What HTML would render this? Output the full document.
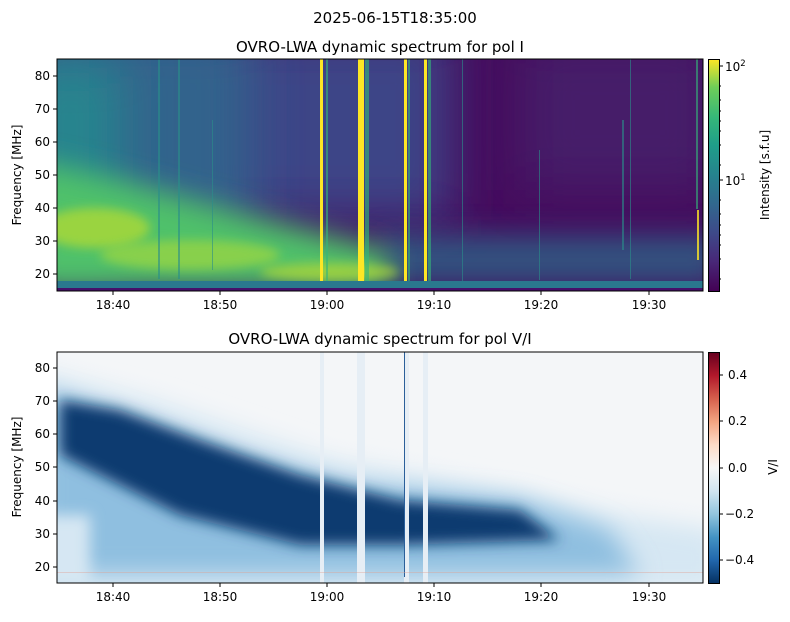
<!DOCTYPE html>
<html><head><meta charset="utf-8"><style>
body{margin:0;background:#fff;width:790px;height:617px;overflow:hidden}
svg text{font-family:"DejaVu Sans","Liberation Sans",sans-serif;fill:#000}
</style></head><body>
<svg width="790" height="617" viewBox="0 0 790 617" xmlns="http://www.w3.org/2000/svg">
<defs>
<linearGradient id="vir" x1="0" y1="1" x2="0" y2="0">
<stop offset="0" stop-color="#440154"/><stop offset="0.13" stop-color="#482878"/><stop offset="0.25" stop-color="#3e4989"/><stop offset="0.38" stop-color="#31688e"/><stop offset="0.5" stop-color="#26828e"/><stop offset="0.63" stop-color="#1f9e89"/><stop offset="0.75" stop-color="#35b779"/><stop offset="0.88" stop-color="#6ece58"/><stop offset="1" stop-color="#fde725"/></linearGradient>
<linearGradient id="rdbu" x1="0" y1="1" x2="0" y2="0">
<stop offset="0" stop-color="#053061"/><stop offset="0.1" stop-color="#2166ac"/><stop offset="0.2" stop-color="#4393c3"/><stop offset="0.3" stop-color="#92c5de"/><stop offset="0.4" stop-color="#d1e5f0"/><stop offset="0.5" stop-color="#f7f7f7"/><stop offset="0.6" stop-color="#fddbc7"/><stop offset="0.7" stop-color="#f4a582"/><stop offset="0.8" stop-color="#d6604d"/><stop offset="0.9" stop-color="#b2182b"/><stop offset="1" stop-color="#67001f"/></linearGradient>
<filter id="t25" filterUnits="userSpaceOnUse" x="0" y="0" width="790" height="617"><feGaussianBlur stdDeviation="25"/></filter>
<filter id="t15" filterUnits="userSpaceOnUse" x="0" y="0" width="790" height="617"><feGaussianBlur stdDeviation="14"/></filter>
<filter id="bl" filterUnits="userSpaceOnUse" x="0" y="300" width="790" height="317"><feGaussianBlur stdDeviation="7"/></filter>
<filter id="bl3" filterUnits="userSpaceOnUse" x="0" y="300" width="790" height="317"><feGaussianBlur stdDeviation="12"/></filter>
<filter id="bl2" filterUnits="userSpaceOnUse" x="0" y="0" width="790" height="617"><feGaussianBlur stdDeviation="5"/></filter>
<clipPath id="c1"><rect x="57" y="59" width="646" height="232"/></clipPath>
<clipPath id="c2"><rect x="57" y="352" width="646" height="231"/></clipPath>
</defs>

<text x="395" y="23" font-size="15" text-anchor="middle">2025-06-15T18:35:00</text>
<text x="380" y="52" font-size="15" text-anchor="middle">OVRO-LWA dynamic spectrum for pol I</text>
<text x="380" y="344" font-size="15" text-anchor="middle">OVRO-LWA dynamic spectrum for pol V/I</text>

<!-- TOP PLOT -->
<g clip-path="url(#c1)">
<rect x="57" y="59" width="646" height="232" fill="#450b5d"/>
<rect x="520" y="40" width="200" height="150" fill="#472a72" filter="url(#t25)" opacity="0.6"/>
<rect x="20" y="30" width="430" height="190" fill="#3d4487" filter="url(#t25)"/>
<rect x="20" y="30" width="230" height="200" fill="#33638c" filter="url(#t25)"/>
<rect x="20" y="60" width="100" height="200" fill="#26858e" filter="url(#t25)"/>
<rect x="380" y="235" width="340" height="50" fill="#2a6f8e" filter="url(#t15)" opacity="0.7"/>
<polygon points="30,160 120,180 250,215 390,250 390,290 30,290" fill="#4fc16b" filter="url(#t15)"/>
<ellipse cx="95" cy="228" rx="55" ry="20" fill="#c2df2c" filter="url(#bl2)" opacity="0.65"/>
<ellipse cx="190" cy="255" rx="90" ry="15" fill="#aedb38" filter="url(#bl2)" opacity="0.6"/>
<ellipse cx="330" cy="272" rx="70" ry="9" fill="#b5dc34" filter="url(#bl2)" opacity="0.7"/>
<g fill="#2a8f8a" opacity="0.6">
<rect x="158" y="59" width="2" height="220"/><rect x="178" y="59" width="2" height="220"/><rect x="212" y="120" width="1" height="150"/>
<rect x="462" y="59" width="1" height="225"/><rect x="539" y="150" width="1" height="130"/><rect x="622" y="120" width="2" height="130"/><rect x="630" y="59" width="1" height="220"/></g>
<g fill="#fde725">
<rect x="320" y="59" width="3" height="225"/>
<rect x="358" y="59" width="6" height="225"/>
<rect x="404" y="59" width="3" height="225"/>
<rect x="424" y="59" width="3" height="225"/>
<rect x="697" y="210" width="2" height="50" opacity="0.8"/></g>
<g fill="#35b779" opacity="0.6">
<rect x="326" y="59" width="2" height="225"/><rect x="365" y="59" width="4" height="225"/><rect x="408" y="59" width="2" height="225"/><rect x="428" y="59" width="3" height="225"/><rect x="696" y="59" width="2" height="150"/></g>
<rect x="57" y="281" width="646" height="7" fill="#2a788e"/>
<rect x="57" y="288" width="646" height="3" fill="#46106a"/>
</g>
<rect x="57" y="59" width="646" height="232" fill="none" stroke="#000" stroke-width="1"/>

<!-- BOTTOM PLOT -->
<g clip-path="url(#c2)">
<rect x="57" y="352" width="646" height="231" fill="#f4f6f8"/>
<polygon points="30,370 150,400 330,460 500,490 620,515 720,530 720,590 30,590" fill="#d6e7f3" filter="url(#bl3)"/>
<polygon points="40,390 120,415 250,460 350,485 520,500 610,530 640,575 40,575" fill="#8fbfe0" filter="url(#bl3)"/>
<polygon points="60,400 120,410 200,440 300,475 400,500 520,510 560,540 400,545 300,545 180,515 110,480 60,455" fill="#0b3a70" filter="url(#bl)"/>
<rect x="40" y="515" width="50" height="75" fill="#d6e7f3" filter="url(#bl)"/>
<g fill="#e6eef5">
<rect x="320" y="352" width="4" height="231"/><rect x="357" y="352" width="8" height="231"/><rect x="404" y="352" width="5" height="231"/><rect x="423" y="352" width="5" height="231"/></g>
<rect x="404" y="352" width="1" height="225" fill="#2a5f9a"/>
<rect x="57" y="572" width="646" height="1" fill="#e0a090" opacity="0.4"/>
</g>
<rect x="57" y="352" width="646" height="231" fill="none" stroke="#000" stroke-width="1"/>

<!-- x ticks -->
<g stroke="#000">
<line x1="113" y1="291" x2="113" y2="295"/><line x1="220" y1="291" x2="220" y2="295"/><line x1="327" y1="291" x2="327" y2="295"/><line x1="434" y1="291" x2="434" y2="295"/><line x1="541" y1="291" x2="541" y2="295"/><line x1="649" y1="291" x2="649" y2="295"/>
<line x1="113" y1="583" x2="113" y2="587"/><line x1="220" y1="583" x2="220" y2="587"/><line x1="327" y1="583" x2="327" y2="587"/><line x1="434" y1="583" x2="434" y2="587"/><line x1="541" y1="583" x2="541" y2="587"/><line x1="649" y1="583" x2="649" y2="587"/>
</g>
<g font-size="12" text-anchor="middle">
<text x="113" y="309">18:40</text><text x="220" y="309">18:50</text><text x="327" y="309">19:00</text><text x="434" y="309">19:10</text><text x="541" y="309">19:20</text><text x="649" y="309">19:30</text>
<text x="113" y="601">18:40</text><text x="220" y="601">18:50</text><text x="327" y="601">19:00</text><text x="434" y="601">19:10</text><text x="541" y="601">19:20</text><text x="649" y="601">19:30</text>
</g>
<!-- y ticks -->
<g stroke="#000">
<line x1="53" y1="76" x2="57" y2="76"/><line x1="53" y1="109" x2="57" y2="109"/><line x1="53" y1="142" x2="57" y2="142"/><line x1="53" y1="175" x2="57" y2="175"/><line x1="53" y1="208" x2="57" y2="208"/><line x1="53" y1="241" x2="57" y2="241"/><line x1="53" y1="274" x2="57" y2="274"/>
<line x1="53" y1="368" x2="57" y2="368"/><line x1="53" y1="401" x2="57" y2="401"/><line x1="53" y1="434" x2="57" y2="434"/><line x1="53" y1="467" x2="57" y2="467"/><line x1="53" y1="501" x2="57" y2="501"/><line x1="53" y1="534" x2="57" y2="534"/><line x1="53" y1="567" x2="57" y2="567"/>
</g>
<g font-size="12" text-anchor="end">
<text x="50" y="80">80</text><text x="50" y="113">70</text><text x="50" y="146">60</text><text x="50" y="179">50</text><text x="50" y="212">40</text><text x="50" y="245">30</text><text x="50" y="278">20</text>
<text x="50" y="372">80</text><text x="50" y="405">70</text><text x="50" y="438">60</text><text x="50" y="471">50</text><text x="50" y="505">40</text><text x="50" y="538">30</text><text x="50" y="571">20</text>
</g>
<text transform="translate(21,175) rotate(-90)" font-size="12" text-anchor="middle">Frequency [MHz]</text>
<text transform="translate(21,467) rotate(-90)" font-size="12" text-anchor="middle">Frequency [MHz]</text>

<!-- colorbars -->
<rect x="708.5" y="59.5" width="11" height="232" fill="url(#vir)" stroke="#000" stroke-width="1"/>
<g stroke="#000">
<line x1="719" y1="66" x2="723" y2="66"/><line x1="719" y1="180" x2="723" y2="180"/>
<line x1="719" y1="86" x2="721" y2="86"/><line x1="719" y1="100" x2="721" y2="100"/><line x1="719" y1="111" x2="721" y2="111"/><line x1="719" y1="121" x2="721" y2="121"/><line x1="719" y1="131" x2="721" y2="131"/><line x1="719" y1="145" x2="721" y2="145"/><line x1="719" y1="165" x2="721" y2="165"/>
<line x1="719" y1="200" x2="721" y2="200"/><line x1="719" y1="214" x2="721" y2="214"/><line x1="719" y1="225" x2="721" y2="225"/><line x1="719" y1="235" x2="721" y2="235"/><line x1="719" y1="245" x2="721" y2="245"/><line x1="719" y1="259" x2="721" y2="259"/><line x1="719" y1="279" x2="721" y2="279"/>
</g>
<text x="725" y="71" font-size="12">10<tspan dy="-5" font-size="8.5">2</tspan></text>
<text x="725" y="185" font-size="12">10<tspan dy="-5" font-size="8.5">1</tspan></text>
<text transform="translate(769,175) rotate(-90)" font-size="12" text-anchor="middle">Intensity [s.f.u]</text>

<rect x="708.5" y="352.5" width="11" height="231" fill="url(#rdbu)" stroke="#000" stroke-width="1"/>
<g stroke="#000">
<line x1="719" y1="375" x2="723" y2="375"/><line x1="719" y1="421" x2="723" y2="421"/><line x1="719" y1="468" x2="723" y2="468"/><line x1="719" y1="514" x2="723" y2="514"/><line x1="719" y1="560" x2="723" y2="560"/></g>
<g font-size="12">
<text x="728" y="379">0.4</text><text x="728" y="425">0.2</text><text x="728" y="472">0.0</text><text x="725" y="518">−0.2</text><text x="725" y="564">−0.4</text></g>
<text transform="translate(777,467) rotate(-90)" font-size="12" text-anchor="middle">V/I</text>
</svg>
</body></html>
